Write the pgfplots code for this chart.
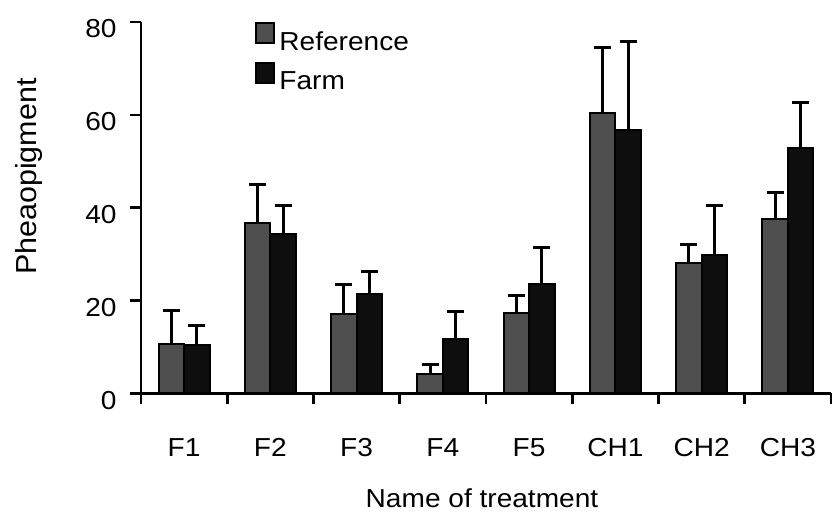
\documentclass[border=0pt]{standalone}
\usepackage{fontspec}
\setmainfont[FakeStretch=1.08]{Liberation Sans}
\newfontfamily\ylfont[FakeStretch=1.05]{Liberation Sans}
\usepackage{pgfplots}
\usepackage{pgfplotstable}
\pgfplotsset{compat=1.18}
\definecolor{refgray}{RGB}{78,78,78}
\definecolor{farmblack}{RGB}{14,14,14}

\pgfplotstableread{
x  ref  referr  farm  farmerr
0  10.6  7.3   10.4  4.2
1  36.7  8.3   34.4  6.1
2  17.0  6.5   21.3  5.0
3  4.1   2.1   11.6  6.1
4  17.2  3.8   23.5  7.9
5  60.4  14.0  56.8  19.0
6  28.0  4.1   29.8  10.6
7  37.5  5.8   52.9  9.7
}\datatable

\begin{document}
\begin{tikzpicture}
\begin{axis}[
  scale only axis, width=345pt, height=185.65pt,
  xmin=-0.5, xmax=7.5, ymin=0, ymax=80,
  axis lines*=left,
  axis line style={line width=1.3pt, black},
  ybar=0pt, bar width=12.75pt,
  xtick={-0.5,0.5,...,7.5}, xticklabels={},
  extra x ticks={0,1,2,3,4,5,6,7},
  extra x tick labels={F1,F2,F3,F4,F5,CH1,CH2,CH3},
  extra x tick style={tick style={draw=none},
    tick label style={anchor=base, inner sep=0pt, yshift=-26pt}},
  ytick={0,20,40,60,80},
  yticklabel style={anchor=east, inner sep=0pt, xshift=-6.5pt, yshift=-3.5pt},
  tick align=outside, major tick length=5.5pt,
  tick style={line width=1.3pt, black},
  font=\fontsize{13}{15}\selectfont,
  /pgf/number format/assume math mode=true,
  every axis x label/.style={at={([xshift=-2pt,yshift=-57.35pt]rel axis cs:0.5,0)}, anchor=base},
  every axis y label/.style={at={([xshift=-56pt,yshift=15.5pt]rel axis cs:0,0.5)}, rotate=90, anchor=center},
  xlabel={Name of treatment},
  ylabel={\ylfont\fontsize{14.5}{16}\selectfont Pheaopigment},
  legend style={at={([xshift=57pt]rel axis cs:0,1)}, anchor=north west, draw=none, fill=none,
    inner sep=0pt, row sep=2.5pt, font=\fontsize{13}{15}\selectfont,
    cells={anchor=west}},
  legend image code/.code={\draw[#1, line width=1pt] (0pt,-0.5pt) rectangle (9pt,9.5pt);},
  error bars/error bar style={line width=1.4pt, black},
  error bars/error mark options={rotate=90, mark size=4.25pt, line width=1.5pt, black},
]
\coordinate (O) at (rel axis cs:0,0);
\addplot[draw=black, line width=1pt, fill=refgray,
  error bars/.cd, y dir=plus, y explicit]
  table[x=x, y=ref, y error=referr] {\datatable};
\addplot[draw=black, line width=1pt, fill=farmblack,
  error bars/.cd, y dir=plus, y explicit]
  table[x=x, y=farm, y error=farmerr] {\datatable};
\legend{Reference, Farm}
\end{axis}
\pgfresetboundingbox
\path[use as bounding box] ([xshift=-70.5pt,yshift=-59.85pt]O) rectangle ++(416pt,256.5pt);
\end{tikzpicture}
\end{document}
